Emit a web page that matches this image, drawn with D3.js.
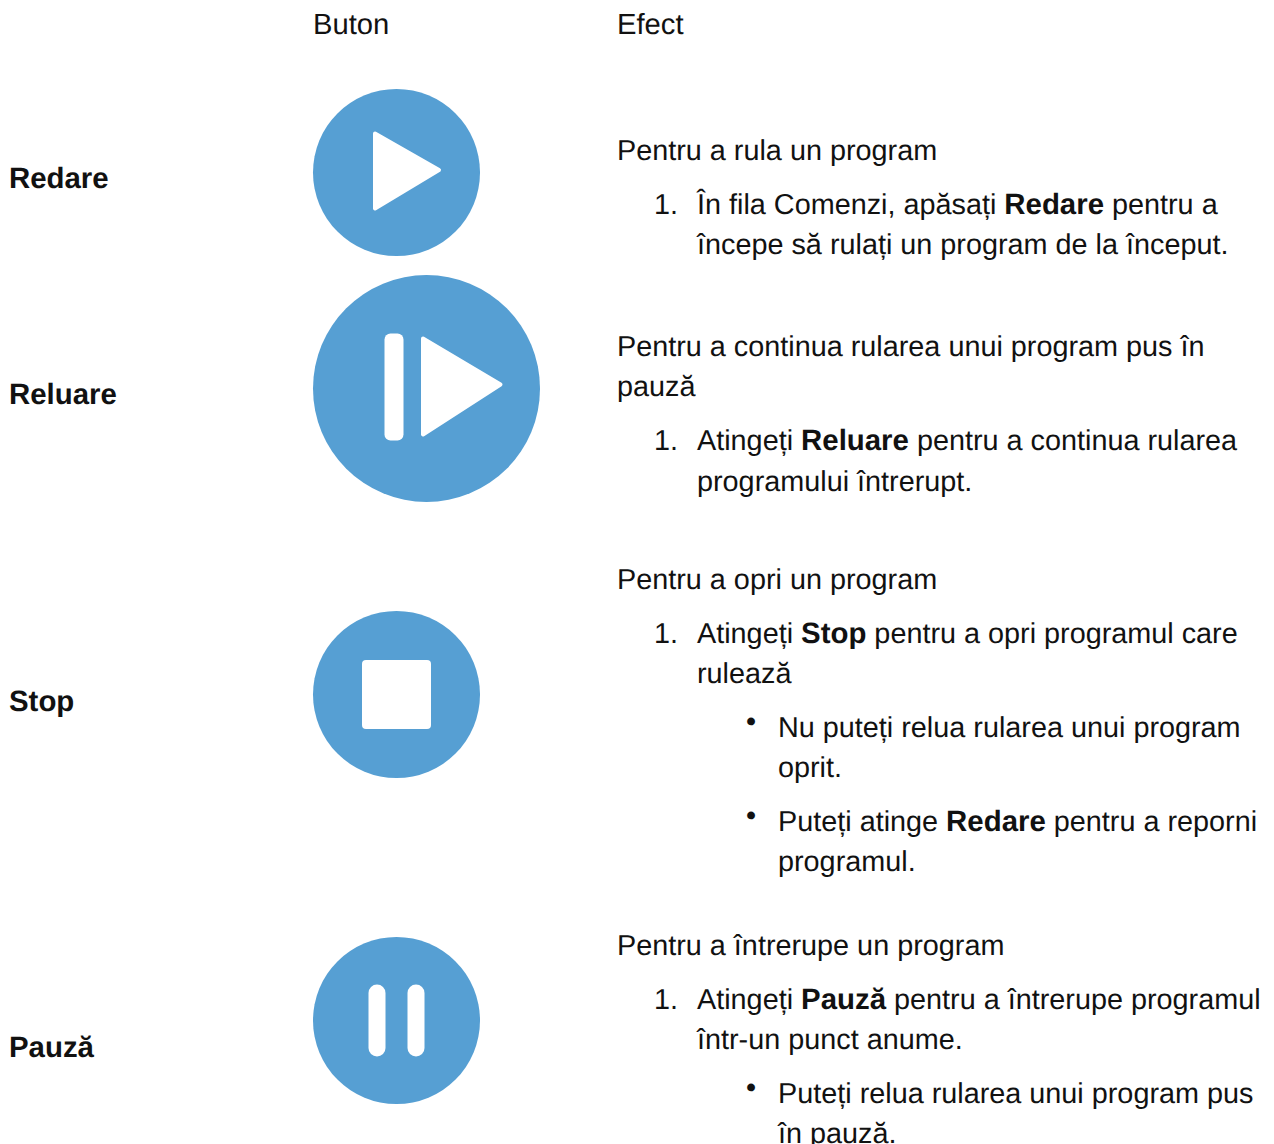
<!DOCTYPE html>
<html>
<head>
<meta charset="utf-8">
<script src="https://cdnjs.cloudflare.com/ajax/libs/d3/7.8.5/d3.min.js"></script>
<style>
  html, body { margin: 0; padding: 0; background: #fff; overflow: hidden; }
  text { font-family: "Liberation Sans", Arial, sans-serif; fill: #111; font-size: 28.8px; text-rendering: geometricPrecision; }
</style>
</head>
<body>
<svg width="1274" height="1144"></svg>
<script>
const headers = ['Buton', 'Efect'];
const buttonNames = ['Redare', 'Reluare', 'Stop', 'Pauză'];
const iconKinds = ['play', 'resume', 'stop', 'pause'];

// each line: text runs, [text, bold]
const effectLines = [
  { x: 617, y: 160, runs: [['Pentru a rula un program']] },
  { x: 654, y: 214, runs: [['1.']] },
  { x: 697, y: 214, runs: [['În fila Comenzi, apăsați '], ['Redare', 1], [' pentru a']] },
  { x: 697, y: 254, runs: [['începe să rulați un program de la început.']] },
  { x: 617, y: 356, runs: [['Pentru a continua rularea unui program pus în']] },
  { x: 617, y: 396, runs: [['pauză']] },
  { x: 654, y: 450, runs: [['1.']] },
  { x: 697, y: 450, runs: [['Atingeți '], ['Reluare', 1], [' pentru a continua rularea']] },
  { x: 697, y: 491, runs: [['programului întrerupt.']] },
  { x: 617, y: 589, runs: [['Pentru a opri un program']] },
  { x: 654, y: 643, runs: [['1.']] },
  { x: 697, y: 643, runs: [['Atingeți '], ['Stop', 1], [' pentru a opri programul care']] },
  { x: 697, y: 683, runs: [['rulează']] },
  { x: 746, y: 731, runs: [['•']] },
  { x: 778, y: 737, runs: [['Nu puteți relua rularea unui program']] },
  { x: 778, y: 777, runs: [['oprit.']] },
  { x: 746, y: 825, runs: [['•']] },
  { x: 778, y: 831, runs: [['Puteți atinge '], ['Redare', 1], [' pentru a reporni']] },
  { x: 778, y: 871, runs: [['programul.']] },
  { x: 617, y: 955, runs: [['Pentru a întrerupe un program']] },
  { x: 654, y: 1009, runs: [['1.']] },
  { x: 697, y: 1009, runs: [['Atingeți '], ['Pauză', 1], [' pentru a întrerupe programul']] },
  { x: 697, y: 1049, runs: [['într-un punct anume.']] },
  { x: 746, y: 1097, runs: [['•']] },
  { x: 778, y: 1103, runs: [['Puteți relua rularea unui program pus']] },
  { x: 778, y: 1143, runs: [['în pauză.']] }
];

const svg = d3.select('svg');

// header row
svg.selectAll('.header').data(headers).enter().append('text')
  .attr('class', 'header')
  .style('font-size', '29.2px')
  .attr('x', (d, i) => [313, 617][i])
  .attr('y', 34)
  .text(d => d);

// left column labels
const labelY = [188, 404, 711, 1057];
svg.selectAll('.name').data(buttonNames).enter().append('text')
  .attr('class', 'name')
  .attr('x', 9)
  .attr('y', (d, i) => labelY[i])
  .style('font-weight', 'bold')
  .style('font-size', '29.4px')
  .text(d => d);

// icons
const blue = '#569fd3';
const iconCx = [396.5, 426.5, 396.5, 396.5];
const iconCy = [172.5, 388.5, 694.5, 1020.5];
const iconR = [83.5, 113.5, 83.5, 83.5];

const icons = svg.selectAll('.icon').data(iconKinds).enter().append('g')
  .attr('class', 'icon')
  .attr('transform', (d, i) => `translate(${iconCx[i]},${iconCy[i]})`);

icons.append('circle')
  .attr('r', (d, i) => iconR[i])
  .attr('fill', blue);

const roundTri = (g, pts) => g.append('polygon')
  .attr('points', pts.map(p => p.join(',')).join(' '))
  .attr('fill', '#fff').attr('stroke', '#fff')
  .attr('stroke-width', 4).attr('stroke-linejoin', 'round');

icons.each(function (kind) {
  const g = d3.select(this);
  if (kind === 'play') {
    roundTri(g, [[-21.5, -39], [42.5, -2.5], [-21.5, 36]]);
  } else if (kind === 'resume') {
    g.append('rect').attr('x', -42).attr('y', -55).attr('width', 19).attr('height', 107)
      .attr('rx', 6).attr('fill', '#fff');
    roundTri(g, [[-3.5, -50], [74, -4], [-3.5, 46]]);
  } else if (kind === 'stop') {
    g.append('rect').attr('x', -34.5).attr('y', -34.5).attr('width', 69).attr('height', 69)
      .attr('rx', 4).attr('fill', '#fff');
  } else {
    g.selectAll('rect').data([-28, 11]).enter().append('rect')
      .attr('x', d => d).attr('y', -36).attr('width', 17).attr('height', 72)
      .attr('rx', 8.5).attr('fill', '#fff');
  }
});

// effect column
const lines = svg.selectAll('.line').data(effectLines).enter().append('text')
  .attr('class', 'line')
  .attr('x', d => d.x)
  .attr('y', d => d.y);

lines.selectAll('tspan').data(d => d.runs).enter().append('tspan')
  .style('font-weight', d => d[1] ? 'bold' : null)
  .style('font-size', d => d[1] ? '29.4px' : null)
  .text(d => d[0]);
</script>
</body>
</html>
